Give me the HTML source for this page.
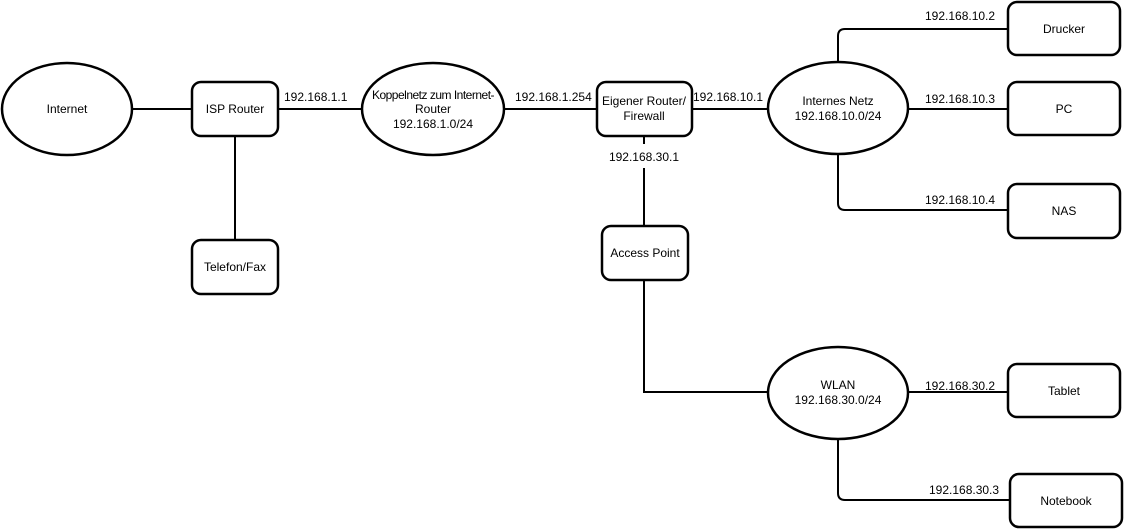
<!DOCTYPE html>
<html><head><meta charset="utf-8"><style>body{margin:0;background:#fff}svg{display:block}</style></head><body>
<svg width="1124" height="529" xmlns="http://www.w3.org/2000/svg" font-family="Liberation Sans, sans-serif" font-size="12" fill="#000">
<g stroke="#000" stroke-width="2" fill="none">
<line x1="133" y1="109" x2="192" y2="109"/>
<line x1="235" y1="136" x2="235" y2="240"/>
<line x1="278" y1="109" x2="362" y2="109"/>
<line x1="505" y1="109" x2="597" y2="109"/>
<line x1="692" y1="109" x2="768" y2="109"/>
<line x1="644" y1="136" x2="644" y2="144"/>
<line x1="644" y1="168" x2="644" y2="226"/>
<path d="M644 280 V392 H768"/>
<path d="M838 62 V36 Q838 29 845 29 H1008"/>
<line x1="909" y1="109" x2="1008" y2="109"/>
<path d="M838 155 V203 Q838 210 845 210 H1008"/>
<line x1="909" y1="392" x2="1008" y2="392"/>
<path d="M838 439 V493 Q838 500 845 500 H1010"/>
<g stroke-width="2.5">
<ellipse cx="67" cy="109" rx="65" ry="46"/>
<rect x="192" y="82" width="86" height="54" rx="9"/>
<rect x="192" y="240" width="86" height="54" rx="9"/>
<ellipse cx="433" cy="109" rx="71" ry="46"/>
<rect x="597" y="82" width="95" height="54" rx="9"/>
<ellipse cx="838" cy="108" rx="70" ry="46"/>
<rect x="1008" y="2" width="112" height="53" rx="9"/>
<rect x="1008" y="82" width="112" height="53" rx="9"/>
<rect x="1008" y="184" width="112" height="54" rx="9"/>
<rect x="602" y="226" width="86" height="54" rx="9"/>
<ellipse cx="838" cy="393" rx="70" ry="46"/>
<rect x="1008" y="364" width="112" height="53" rx="9"/>
<rect x="1010" y="474" width="112" height="53" rx="9"/>
</g></g>
<g text-anchor="middle">
<text x="67" y="113">Internet</text>
<text x="235" y="113">ISP Router</text>
<text x="235" y="271">Telefon/Fax</text>
<text x="433" y="99" letter-spacing="-0.5">Koppelnetz zum Internet-</text>
<text x="433" y="113">Router</text>
<text x="433" y="128">192.168.1.0/24</text>
<text x="644" y="105">Eigener Router/</text>
<text x="644" y="120">Firewall</text>
<text x="838" y="105">Internes Netz</text>
<text x="838" y="120">192.168.10.0/24</text>
<text x="1064" y="33">Drucker</text>
<text x="1064" y="113">PC</text>
<text x="1064" y="215">NAS</text>
<text x="645" y="257">Access Point</text>
<text x="838" y="389">WLAN</text>
<text x="838" y="404">192.168.30.0/24</text>
<text x="1064" y="395">Tablet</text>
<text x="1066" y="505">Notebook</text>
<text x="644" y="161">192.168.30.1</text>
</g>
<text x="284" y="101">192.168.1.1</text>
<text x="515" y="101">192.168.1.254</text>
<text x="693" y="101">192.168.10.1</text>
<text x="925" y="20">192.168.10.2</text>
<text x="925" y="103">192.168.10.3</text>
<text x="925" y="204">192.168.10.4</text>
<text x="925" y="390">192.168.30.2</text>
<text x="929" y="494">192.168.30.3</text>
</svg>
</body></html>
